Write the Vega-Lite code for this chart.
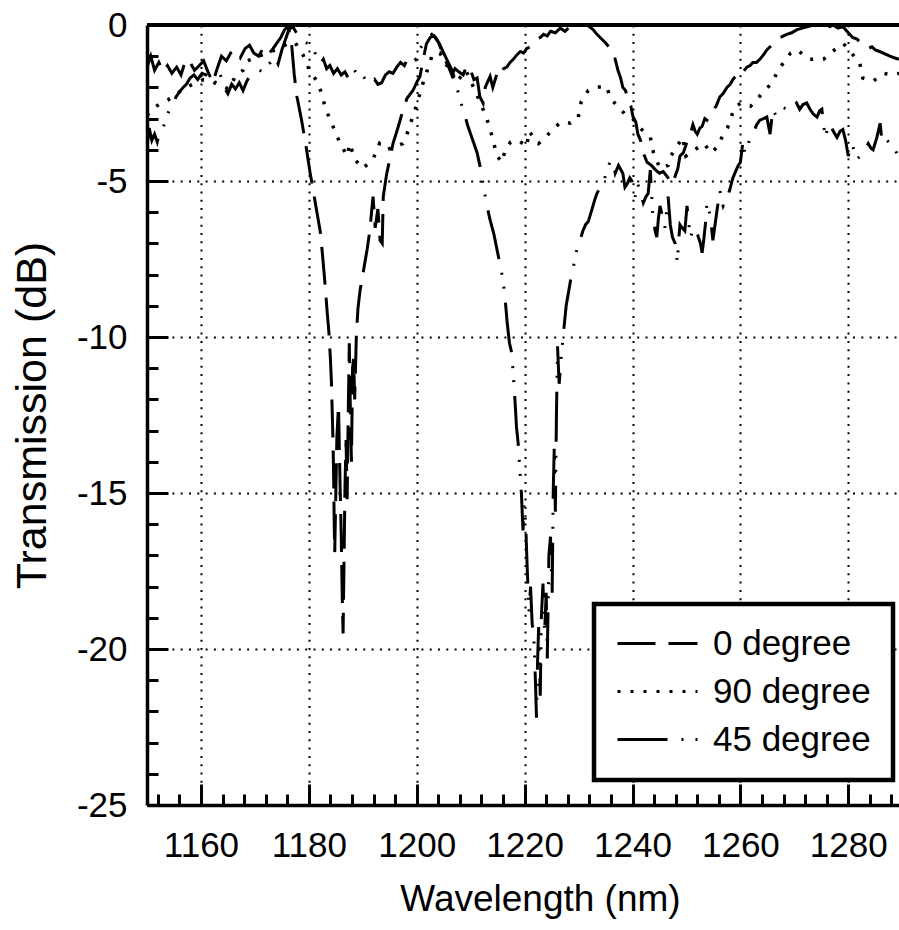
{
  "$schema": "https://vega.github.io/schema/vega-lite/v6.json",
  "autosize": {"type": "none"},
  "padding": {"left": 147, "top": 25, "right": 0, "bottom": 125},
  "width": 752,
  "height": 780,
  "background": "white",
  "config": {
    "view": {"stroke": null},
    "font": "Liberation Sans",
    "legend": {
      "orient": "none", "legendX": 447, "legendY": 579,
      "strokeColor": "black", "strokeWidth": 4.5, "fillColor": "white",
      "padding": 22, "rowPadding": 12,
      "symbolType": "M-1,0H4", "symbolSize": 1024, "symbolStrokeWidth": 3, "symbolStrokeColor": "black", "symbolFillColor": "transparent",
      "labelFontSize": 35, "labelColor": "black", "labelOffset": 62, "labelLimit": 400,
      "title": null
    }
  },
  "datasets": {
    "d90": [
      {"w":1150,"t":-2.9},{"w":1151,"t":-2.7},{"w":1152.6,"t":-2.5},{"w":1153.9,"t":-2.4},{"w":1155.5,"t":-2.2},{"w":1157.3,"t":-2.0},{"w":1159.1,"t":-1.85},{"w":1160.5,"t":-1.75},{"w":1162,"t":-1.8},{"w":1163.5,"t":-1.95},{"w":1165.2,"t":-2.05},{"w":1166.5,"t":-1.6},{"w":1167.8,"t":-1.45},{"w":1168.6,"t":-1.15},{"w":1170,"t":-1.05},{"w":1171.5,"t":-0.95},{"w":1173,"t":-0.85},{"w":1174.5,"t":-0.75},{"w":1176,"t":-0.6},{"w":1177.4,"t":-0.55},{"w":1178.9,"t":-0.95},{"w":1180.1,"t":-1.45},{"w":1181.5,"t":-1.8},{"w":1182.4,"t":-2.2},{"w":1183.1,"t":-2.7},{"w":1183.9,"t":-3.0},{"w":1184.6,"t":-3.3},{"w":1185.7,"t":-3.75},{"w":1187.1,"t":-4.2},{"w":1187.6,"t":-3.8},{"w":1188.5,"t":-4.3},{"w":1190,"t":-4.6},{"w":1191.9,"t":-4.3},{"w":1193.1,"t":-3.8},{"w":1194.4,"t":-4.0},{"w":1196,"t":-3.9},{"w":1197.4,"t":-3.8},{"w":1198,"t":-3.6},{"w":1199.9,"t":-2.6},{"w":1201.1,"t":-1.9},{"w":1202.9,"t":-0.95},{"w":1204.3,"t":-0.9},{"w":1205.6,"t":-1.3},{"w":1207.3,"t":-1.85},{"w":1209.1,"t":-1.45},{"w":1210.8,"t":-2.1},{"w":1212.8,"t":-2.9},{"w":1213.7,"t":-3.4},{"w":1214.9,"t":-4.2},{"w":1215.8,"t":-4.4},{"w":1216.4,"t":-4.0},{"w":1217.4,"t":-3.75},{"w":1218.9,"t":-3.7},{"w":1220.4,"t":-3.9},{"w":1220.8,"t":-3.4},{"w":1222.6,"t":-3.8},{"w":1223.9,"t":-3.6},{"w":1225.4,"t":-3.3},{"w":1226.9,"t":-3.1},{"w":1228.5,"t":-3.15},{"w":1229.9,"t":-3.0},{"w":1230.5,"t":-2.45},{"w":1231.8,"t":-2.1},{"w":1233.3,"t":-2.0},{"w":1235.1,"t":-1.95},{"w":1236.1,"t":-2.4},{"w":1237.3,"t":-2.6},{"w":1238.8,"t":-2.9},{"w":1240,"t":-3.0},{"w":1241.4,"t":-3.3},{"w":1243.3,"t":-3.6},{"w":1243.9,"t":-4.1},{"w":1245.1,"t":-4.6},{"w":1246.6,"t":-4.5},{"w":1247.1,"t":-4.2},{"w":1248.4,"t":-3.85},{"w":1249.3,"t":-3.6},{"w":1249.9,"t":-4.2},{"w":1251.5,"t":-4.0},{"w":1253.3,"t":-3.8},{"w":1254.5,"t":-4.1},{"w":1255.8,"t":-3.9},{"w":1256.7,"t":-3.55},{"w":1257.6,"t":-3.3},{"w":1258.9,"t":-2.65},{"w":1260.1,"t":-2.5},{"w":1261.9,"t":-2.6},{"w":1264,"t":-2.2},{"w":1265.6,"t":-1.9},{"w":1267.4,"t":-1.35},{"w":1269.3,"t":-0.9},{"w":1270.5,"t":-0.8},{"w":1272.9,"t":-1.1},{"w":1275.4,"t":-1.1},{"w":1276.6,"t":-0.9},{"w":1279.1,"t":-0.6},{"w":1280.6,"t":-0.9},{"w":1282.1,"t":-1.2},{"w":1282.7,"t":-1.7},{"w":1284.6,"t":-1.8},{"w":1286.6,"t":-1.55},{"w":1288.1,"t":-1.6},{"w":1289.4,"t":-1.55}
    ],
    "d0": [
      {"w":1150,"t":-1.35},{"w":1150.7,"t":-1.0},{"w":1151.4,"t":-1.45},{"w":1152.2,"t":-1.2},{"w":1153,"t":-1.5},{"w":1153.8,"t":-1.3},{"w":1154.6,"t":-1.55},{"w":1155.5,"t":-1.35},{"w":1156.3,"t":-1.6},{"w":1157.2,"t":-1.1},{"w":1158,"t":-1.2},{"w":1158.8,"t":-1.45},{"w":1159.7,"t":-1.3},{"w":1160.5,"t":-1.15},{"w":1161.3,"t":-1.5},{"w":1162.2,"t":-1.85},{"w":1163,"t":-1.4},{"w":1163.8,"t":-1.0},{"w":1164.7,"t":-1.15},{"w":1165.5,"t":-0.9},{"w":1166.4,"t":-0.8},{"w":1167.3,"t":-1.05},{"w":1168.2,"t":-0.75},{"w":1169,"t":-0.65},{"w":1169.8,"t":-0.9},{"w":1170.7,"t":-1.0},{"w":1171.5,"t":-0.75},{"w":1172.3,"t":-0.95},{"w":1173.2,"t":-0.8},{"w":1174,"t":-0.6},{"w":1174.8,"t":-0.4},{"w":1175.5,"t":-0.15},{"w":1176.2,"t":-0.05},{"w":1176.8,"t":-0.6},{"w":1177.3,"t":-1.6},{"w":1177.8,"t":-2.3},{"w":1178.6,"t":-3.0},{"w":1179.4,"t":-3.8},{"w":1180.2,"t":-4.7},{"w":1180.8,"t":-5.3},{"w":1181.5,"t":-6.0},{"w":1182.1,"t":-6.6},{"w":1182.5,"t":-7.3},{"w":1183,"t":-8.3},{"w":1183.4,"t":-9.2},{"w":1183.7,"t":-9.8},{"w":1184,"t":-10.7},{"w":1184.2,"t":-11.5},{"w":1184.35,"t":-12.5},{"w":1184.5,"t":-13.5},{"w":1184.6,"t":-14.5},{"w":1184.7,"t":-15.9},{"w":1184.8,"t":-16.9},{"w":1184.95,"t":-15.5},{"w":1185.2,"t":-13.2},{"w":1185.5,"t":-12.2},{"w":1185.8,"t":-14.8},{"w":1186.0,"t":-16.3},{"w":1186.2,"t":-18.4},{"w":1186.35,"t":-19.5},{"w":1186.5,"t":-17.5},{"w":1186.7,"t":-14.8},{"w":1186.9,"t":-13.3},{"w":1187.1,"t":-15.2},{"w":1187.3,"t":-12.5},{"w":1187.5,"t":-10.2},{"w":1187.7,"t":-12.4},{"w":1187.9,"t":-14.0},{"w":1188.1,"t":-11.0},{"w":1188.3,"t":-10.7},{"w":1188.5,"t":-12.0},{"w":1188.8,"t":-10.0},{"w":1189.1,"t":-9.1},{"w":1189.5,"t":-8.5},{"w":1189.9,"t":-8.1},{"w":1190.4,"t":-7.6},{"w":1190.8,"t":-7.2},{"w":1191.3,"t":-6.6},{"w":1191.9,"t":-5.5},{"w":1192.3,"t":-6.5},{"w":1192.8,"t":-5.9},{"w":1193.2,"t":-6.9},{"w":1193.6,"t":-7.0},{"w":1193.8,"t":-5.5},{"w":1194.4,"t":-4.8},{"w":1195,"t":-4.3},{"w":1195.6,"t":-3.8},{"w":1196.5,"t":-3.3},{"w":1197.5,"t":-2.7},{"w":1198.2,"t":-2.35},{"w":1199.3,"t":-2.1},{"w":1200.1,"t":-1.8},{"w":1200.6,"t":-1.65},{"w":1201.2,"t":-1.1},{"w":1201.8,"t":-0.6},{"w":1202.5,"t":-0.4},{"w":1203.2,"t":-0.35},{"w":1204,"t":-0.55},{"w":1204.6,"t":-0.8},{"w":1205.2,"t":-1.1},{"w":1205.8,"t":-1.3},{"w":1206.5,"t":-1.6},{"w":1207.1,"t":-1.4},{"w":1207.8,"t":-1.5},{"w":1208.6,"t":-1.6},{"w":1209.3,"t":-1.3},{"w":1209.9,"t":-1.4},{"w":1210.6,"t":-1.75},{"w":1211.2,"t":-1.7},{"w":1211.7,"t":-2.3},{"w":1212.3,"t":-2.5},{"w":1212.7,"t":-2.0},{"w":1213.2,"t":-1.8},{"w":1213.6,"t":-1.65},{"w":1214.1,"t":-2.0},{"w":1214.9,"t":-1.55},{"w":1215.4,"t":-1.65},{"w":1216.1,"t":-1.4},{"w":1216.7,"t":-1.35},{"w":1217.3,"t":-1.2},{"w":1217.9,"t":-1.1},{"w":1218.6,"t":-0.95},{"w":1219.2,"t":-0.85},{"w":1219.8,"t":-0.9},{"w":1220.4,"t":-0.75},{"w":1221,"t":-0.7},{"w":1221.6,"t":-0.6},{"w":1222.3,"t":-0.45},{"w":1222.9,"t":-0.4},{"w":1223.5,"t":-0.3},{"w":1224.2,"t":-0.35},{"w":1224.8,"t":-0.2},{"w":1225.7,"t":-0.25},{"w":1226.6,"t":-0.1},{"w":1227.5,"t":-0.2},{"w":1228.4,"t":-0.05},{"w":1229.3,"t":-0.1},{"w":1230.3,"t":0},{"w":1231.6,"t":0},{"w":1232.7,"t":-0.15},{"w":1233.4,"t":-0.3},{"w":1234,"t":-0.4},{"w":1234.9,"t":-0.55},{"w":1235.6,"t":-0.7},{"w":1236.2,"t":-0.8},{"w":1236.8,"t":-1.1},{"w":1237.3,"t":-1.45},{"w":1237.8,"t":-1.7},{"w":1238.2,"t":-2.0},{"w":1238.7,"t":-2.1},{"w":1239.2,"t":-2.4},{"w":1239.7,"t":-2.6},{"w":1240.1,"t":-2.95},{"w":1240.6,"t":-3.1},{"w":1241,"t":-3.5},{"w":1241.5,"t":-3.7},{"w":1242,"t":-4.1},{"w":1242.7,"t":-4.4},{"w":1243.5,"t":-4.5},{"w":1244.3,"t":-4.65},{"w":1245,"t":-4.75},{"w":1245.7,"t":-4.7},{"w":1246.6,"t":-4.9},{"w":1247.3,"t":-5.1},{"w":1247.9,"t":-4.85},{"w":1248.4,"t":-4.6},{"w":1248.8,"t":-4.2},{"w":1249.4,"t":-4.1},{"w":1250.2,"t":-3.7},{"w":1250.7,"t":-3.5},{"w":1251.2,"t":-3.2},{"w":1251.6,"t":-3.4},{"w":1252,"t":-3.5},{"w":1252.5,"t":-3.3},{"w":1252.9,"t":-3.25},{"w":1253.4,"t":-3.0},{"w":1253.8,"t":-3.05},{"w":1254.4,"t":-2.85},{"w":1255,"t":-2.7},{"w":1255.5,"t":-2.6},{"w":1256.2,"t":-2.3},{"w":1256.8,"t":-2.2},{"w":1257.5,"t":-2.0},{"w":1258.1,"t":-1.9},{"w":1258.6,"t":-1.75},{"w":1259.3,"t":-1.6},{"w":1259.9,"t":-1.45},{"w":1260.5,"t":-1.5},{"w":1261.2,"t":-1.35},{"w":1261.8,"t":-1.3},{"w":1262.3,"t":-1.2},{"w":1263,"t":-1.2},{"w":1263.6,"t":-1.1},{"w":1264.3,"t":-0.95},{"w":1264.9,"t":-0.8},{"w":1265.5,"t":-0.7},{"w":1266,"t":-0.6},{"w":1266.7,"t":-0.5},{"w":1267.4,"t":-0.4},{"w":1268,"t":-0.35},{"w":1268.6,"t":-0.3},{"w":1269.5,"t":-0.25},{"w":1270.5,"t":-0.15},{"w":1271.5,"t":-0.1},{"w":1272.5,"t":-0.05},{"w":1273.5,"t":0},{"w":1274.5,"t":-0.05},{"w":1275.5,"t":0},{"w":1276.5,"t":-0.05},{"w":1277.2,"t":0},{"w":1278.1,"t":-0.1},{"w":1279,"t":-0.05},{"w":1279.5,"t":-0.15},{"w":1280,"t":-0.25},{"w":1280.8,"t":-0.4},{"w":1281.6,"t":-0.45},{"w":1282.2,"t":-0.55},{"w":1282.7,"t":-0.6},{"w":1283.2,"t":-0.7},{"w":1283.7,"t":-0.75},{"w":1284.4,"t":-0.7},{"w":1285,"t":-0.8},{"w":1285.8,"t":-0.85},{"w":1286.5,"t":-0.9},{"w":1287.1,"t":-0.95},{"w":1287.7,"t":-1.0},{"w":1288.5,"t":-1.05},{"w":1289.4,"t":-1.1}
    ],
    "d45": [
      {"w":1150,"t":-3.9},{"w":1150.4,"t":-3.3},{"w":1150.9,"t":-3.7},{"w":1151.4,"t":-3.5},{"w":1151.9,"t":-3.75},{"w":1152.4,"t":-3.4},{"w":1153,"t":-3.3},{"w":1153.6,"t":-2.95},{"w":1154.2,"t":-2.7},{"w":1154.8,"t":-2.55},{"w":1155.4,"t":-2.3},{"w":1156,"t":-2.15},{"w":1156.7,"t":-2.0},{"w":1157.3,"t":-1.9},{"w":1158,"t":-1.7},{"w":1158.7,"t":-1.6},{"w":1159.4,"t":-1.75},{"w":1160.2,"t":-1.55},{"w":1160.9,"t":-1.6},{"w":1161.6,"t":-1.5},{"w":1162.3,"t":-1.75},{"w":1163,"t":-1.9},{"w":1163.6,"t":-1.6},{"w":1164.3,"t":-2.0},{"w":1165,"t":-2.2},{"w":1165.7,"t":-1.9},{"w":1166.4,"t":-2.05},{"w":1167.1,"t":-1.85},{"w":1167.8,"t":-2.1},{"w":1168.5,"t":-1.8},{"w":1169.2,"t":-1.6},{"w":1170,"t":-1.55},{"w":1170.8,"t":-1.45},{"w":1171.5,"t":-1.5},{"w":1172.2,"t":-1.3},{"w":1172.9,"t":-1.2},{"w":1173.6,"t":-1.0},{"w":1174.3,"t":-1.25},{"w":1175,"t":-0.8},{"w":1175.6,"t":-0.5},{"w":1176.3,"t":-0.15},{"w":1177,"t":-0.05},{"w":1177.7,"t":-0.25},{"w":1178.4,"t":-0.45},{"w":1179.2,"t":-0.55},{"w":1180,"t":-0.6},{"w":1180.7,"t":-0.7},{"w":1181.4,"t":-1.0},{"w":1182.1,"t":-1.25},{"w":1182.7,"t":-1.1},{"w":1183.3,"t":-1.4},{"w":1183.9,"t":-1.3},{"w":1184.6,"t":-1.55},{"w":1185.3,"t":-1.4},{"w":1186,"t":-1.6},{"w":1186.7,"t":-1.5},{"w":1187.3,"t":-1.7},{"w":1188,"t":-1.4},{"w":1188.7,"t":-1.5},{"w":1189.4,"t":-1.7},{"w":1190.1,"t":-1.65},{"w":1190.8,"t":-1.8},{"w":1191.5,"t":-1.9},{"w":1192.2,"t":-1.75},{"w":1192.8,"t":-1.9},{"w":1193.5,"t":-1.85},{"w":1194.2,"t":-1.6},{"w":1194.9,"t":-1.5},{"w":1195.6,"t":-1.55},{"w":1196.3,"t":-1.35},{"w":1197,"t":-1.2},{"w":1197.7,"t":-1.3},{"w":1198.4,"t":-1.05},{"w":1199.1,"t":-0.95},{"w":1199.8,"t":-1.1},{"w":1200.5,"t":-0.8},{"w":1201.2,"t":-0.6},{"w":1202,"t":-0.45},{"w":1202.8,"t":-0.3},{"w":1203.5,"t":-0.4},{"w":1204.2,"t":-0.6},{"w":1205,"t":-0.9},{"w":1205.7,"t":-1.15},{"w":1206.4,"t":-1.4},{"w":1207,"t":-1.7},{"w":1207.6,"t":-2.1},{"w":1208.2,"t":-2.5},{"w":1208.8,"t":-2.8},{"w":1209.4,"t":-3.2},{"w":1210,"t":-3.5},{"w":1210.6,"t":-3.8},{"w":1211.2,"t":-4.1},{"w":1211.7,"t":-4.5},{"w":1212.3,"t":-5.1},{"w":1212.9,"t":-5.7},{"w":1213.6,"t":-6.25},{"w":1214.3,"t":-6.7},{"w":1215,"t":-7.3},{"w":1215.6,"t":-7.8},{"w":1216.1,"t":-8.3},{"w":1216.5,"t":-9.0},{"w":1216.8,"t":-9.6},{"w":1217.2,"t":-10.2},{"w":1217.6,"t":-10.5},{"w":1217.9,"t":-11.2},{"w":1218.2,"t":-12.0},{"w":1218.5,"t":-12.9},{"w":1218.8,"t":-13.4},{"w":1219.1,"t":-14.2},{"w":1219.4,"t":-15.0},{"w":1219.7,"t":-16.2},{"w":1219.9,"t":-15.4},{"w":1220.2,"t":-16.0},{"w":1220.5,"t":-17.5},{"w":1220.8,"t":-18.8},{"w":1221.1,"t":-18.0},{"w":1221.4,"t":-19.2},{"w":1221.7,"t":-19.6},{"w":1222.0,"t":-21.0},{"w":1222.2,"t":-22.2},{"w":1222.4,"t":-20.4},{"w":1222.6,"t":-19.3},{"w":1222.9,"t":-21.5},{"w":1223.1,"t":-19.0},{"w":1223.4,"t":-17.9},{"w":1223.7,"t":-19.5},{"w":1224.0,"t":-18.2},{"w":1224.2,"t":-20.3},{"w":1224.5,"t":-17.0},{"w":1224.8,"t":-16.4},{"w":1225.1,"t":-18.3},{"w":1225.3,"t":-15.0},{"w":1225.5,"t":-13.5},{"w":1225.7,"t":-15.6},{"w":1225.9,"t":-12.5},{"w":1226.1,"t":-10.3},{"w":1226.4,"t":-11.5},{"w":1226.8,"t":-10.6},{"w":1227.3,"t":-9.7},{"w":1227.7,"t":-9.0},{"w":1228.2,"t":-8.5},{"w":1228.6,"t":-8.1},{"w":1229,"t":-7.8},{"w":1229.5,"t":-7.3},{"w":1230.1,"t":-7.0},{"w":1230.8,"t":-6.6},{"w":1231.3,"t":-6.4},{"w":1231.8,"t":-6.3},{"w":1232.5,"t":-5.9},{"w":1233,"t":-5.6},{"w":1233.4,"t":-5.4},{"w":1234,"t":-5.2},{"w":1234.5,"t":-5.1},{"w":1235.2,"t":-4.7},{"w":1235.8,"t":-4.4},{"w":1236.4,"t":-4.35},{"w":1236.8,"t":-4.75},{"w":1237.4,"t":-4.5},{"w":1238.2,"t":-4.75},{"w":1238.6,"t":-5.2},{"w":1239,"t":-5.1},{"w":1239.5,"t":-4.9},{"w":1239.9,"t":-5.0},{"w":1240.5,"t":-5.5},{"w":1241,"t":-5.1},{"w":1241.4,"t":-5.3},{"w":1242,"t":-5.7},{"w":1242.5,"t":-5.5},{"w":1242.9,"t":-5.4},{"w":1243.3,"t":-4.65},{"w":1243.6,"t":-5.6},{"w":1243.8,"t":-6.2},{"w":1244.2,"t":-6.6},{"w":1244.5,"t":-6.8},{"w":1244.8,"t":-6.2},{"w":1245.1,"t":-5.8},{"w":1245.5,"t":-6.1},{"w":1246,"t":-6.5},{"w":1246.3,"t":-6.0},{"w":1246.6,"t":-5.5},{"w":1247,"t":-6.4},{"w":1247.4,"t":-6.8},{"w":1247.9,"t":-7.0},{"w":1248.3,"t":-7.6},{"w":1248.6,"t":-6.8},{"w":1248.8,"t":-6.4},{"w":1249.2,"t":-6.5},{"w":1249.7,"t":-6.6},{"w":1250.1,"t":-5.8},{"w":1250.4,"t":-6.3},{"w":1250.7,"t":-6.8},{"w":1251.2,"t":-6.6},{"w":1251.7,"t":-6.5},{"w":1252.2,"t":-6.8},{"w":1252.6,"t":-7.0},{"w":1252.9,"t":-7.3},{"w":1253.2,"t":-6.9},{"w":1253.5,"t":-6.4},{"w":1253.8,"t":-5.7},{"w":1254.1,"t":-5.9},{"w":1254.4,"t":-6.1},{"w":1254.9,"t":-6.9},{"w":1255.3,"t":-6.4},{"w":1255.7,"t":-5.9},{"w":1256.2,"t":-5.3},{"w":1256.5,"t":-5.6},{"w":1256.8,"t":-5.8},{"w":1257.3,"t":-5.6},{"w":1258,"t":-5.3},{"w":1258.6,"t":-4.9},{"w":1259.1,"t":-4.7},{"w":1259.6,"t":-4.5},{"w":1260,"t":-4.4},{"w":1260.5,"t":-3.7},{"w":1260.8,"t":-4.1},{"w":1261.2,"t":-4.0},{"w":1261.8,"t":-3.6},{"w":1262.3,"t":-3.5},{"w":1263,"t":-3.2},{"w":1263.6,"t":-3.05},{"w":1264.3,"t":-3.0},{"w":1264.9,"t":-2.95},{"w":1265.5,"t":-3.5},{"w":1266,"t":-2.7},{"w":1266.6,"t":-2.9},{"w":1267.2,"t":-2.8},{"w":1268,"t":-2.65},{"w":1268.6,"t":-2.7},{"w":1269.2,"t":-2.55},{"w":1269.8,"t":-2.6},{"w":1270.4,"t":-2.5},{"w":1271,"t":-2.7},{"w":1271.6,"t":-2.55},{"w":1272.3,"t":-2.5},{"w":1272.9,"t":-2.7},{"w":1273.5,"t":-2.85},{"w":1274.2,"t":-2.95},{"w":1274.7,"t":-2.75},{"w":1275.1,"t":-2.7},{"w":1275.7,"t":-3.6},{"w":1276.2,"t":-3.3},{"w":1276.6,"t":-3.15},{"w":1277.2,"t":-3.4},{"w":1277.9,"t":-3.6},{"w":1278.5,"t":-3.4},{"w":1279,"t":-3.35},{"w":1279.5,"t":-3.7},{"w":1280,"t":-4.2},{"w":1280.4,"t":-3.9},{"w":1280.7,"t":-3.8},{"w":1281.2,"t":-4.1},{"w":1281.6,"t":-4.3},{"w":1282.2,"t":-4.2},{"w":1282.7,"t":-4.1},{"w":1283.2,"t":-3.95},{"w":1283.7,"t":-3.8},{"w":1284.2,"t":-3.95},{"w":1284.6,"t":-4.0},{"w":1285.3,"t":-3.6},{"w":1285.9,"t":-3.15},{"w":1286.3,"t":-3.8},{"w":1286.8,"t":-3.75},{"w":1287.2,"t":-3.7},{"w":1287.7,"t":-3.8},{"w":1288.1,"t":-3.9},{"w":1288.7,"t":-4.0},{"w":1289.2,"t":-4.2}
    ]
  },
  "resolve": {"axis": {"x": "independent", "y": "independent"}},
  "layer": [
    {
      "data": {"name": "d90"},
      "mark": {"type": "line", "stroke": "black", "strokeWidth": 3.5, "clip": true},
      "encoding": {
        "x": {
          "field": "w", "type": "quantitative",
          "scale": {"domain": [1150, 1289.4], "nice": false, "zero": false},
          "axis": {
            "orient": "bottom",
            "title": "Wavelength (nm)",
            "values": [1160, 1180, 1200, 1220, 1240, 1260, 1280],
            "labelExpr": "'' + datum.value",
            "labelFontSize": 35, "labelColor": "black", "labelPadding": 44, "labelFlush": false, "labelOverlap": false,
            "tickSize": -21, "tickWidth": 3, "tickColor": "black",
            "domainWidth": 3.5, "domainColor": "black",
            "grid": true, "gridDash": [2, 6.3], "gridWidth": 2, "gridColor": "black",
            "titleFontSize": 37, "titleFontWeight": "normal", "titleColor": "black", "titlePadding": 18,
            "titleX": 393, "titleAlign": "center", "titleAnchor": "start"
          }
        },
        "y": {
          "field": "t", "type": "quantitative",
          "scale": {"domain": [-25, 0], "nice": false},
          "axis": {
            "orient": "left",
            "title": "Transmission (dB)",
            "values": [-25, -20, -15, -10, -5, 0],
            "labelExpr": "datum.value < 0 ? '-' + (-datum.value) : '' + datum.value",
            "labelFontSize": 35, "labelColor": "black", "labelPadding": 41, "labelOverlap": false, "labelFlush": false,
            "tickSize": -21, "tickWidth": 3, "tickColor": "black",
            "domainWidth": 3.5, "domainColor": "black",
            "grid": true, "gridDash": [2, 6.3], "gridWidth": 2, "gridColor": "black",
            "titleFontSize": 43, "titleFontWeight": "normal", "titleColor": "black", "titlePadding": 22
          }
        },
        "strokeDash": {
          "datum": "90 degree",
          "type": "nominal",
          "scale": {"domain": ["0 degree", "90 degree", "45 degree"], "range": [[38, 13], [3, 10], [50, 14, 2, 12, 2, 14]]},
          "legend": {"title": null}
        }
      }
    },
    {
      "data": {"name": "d0"},
      "mark": {"type": "line", "stroke": "black", "strokeWidth": 3, "clip": true},
      "encoding": {
        "x": {"field": "w", "type": "quantitative", "axis": null},
        "y": {"field": "t", "type": "quantitative", "axis": null},
        "strokeDash": {"datum": "0 degree", "type": "nominal"}
      }
    },
    {
      "data": {"name": "d45"},
      "mark": {"type": "line", "stroke": "black", "strokeWidth": 3, "clip": true},
      "encoding": {
        "x": {"field": "w", "type": "quantitative", "axis": null},
        "y": {"field": "t", "type": "quantitative", "axis": null},
        "strokeDash": {"datum": "45 degree", "type": "nominal"}
      }
    },
    {
      "data": {"values": [{}]},
      "mark": {"type": "rule", "stroke": "black", "strokeWidth": 4},
      "encoding": {"y": {"datum": 0, "type": "quantitative", "axis": null}}
    },
    {
      "data": {"values": [{"w": 1200, "t": -10}]},
      "mark": {"type": "point", "opacity": 0},
      "encoding": {
        "x": {
          "field": "w", "type": "quantitative",
          "axis": {
            "orient": "bottom", "title": null, "labels": false, "grid": false, "domain": false,
            "values": [1152,1156,1164,1168,1172,1176,1184,1188,1192,1196,1204,1208,1212,1216,1224,1228,1232,1236,1244,1248,1252,1256,1264,1268,1272,1276,1284,1288],
            "tickSize": -11, "tickWidth": 3, "tickColor": "black"
          }
        },
        "y": {
          "field": "t", "type": "quantitative",
          "axis": {
            "orient": "left", "title": null, "labels": false, "grid": false, "domain": false,
            "values": [-24,-23,-22,-21,-19,-18,-17,-16,-14,-13,-12,-11,-9,-8,-7,-6,-4,-3,-2,-1],
            "tickSize": -11, "tickWidth": 3, "tickColor": "black"
          }
        }
      }
    }
  ]
}
